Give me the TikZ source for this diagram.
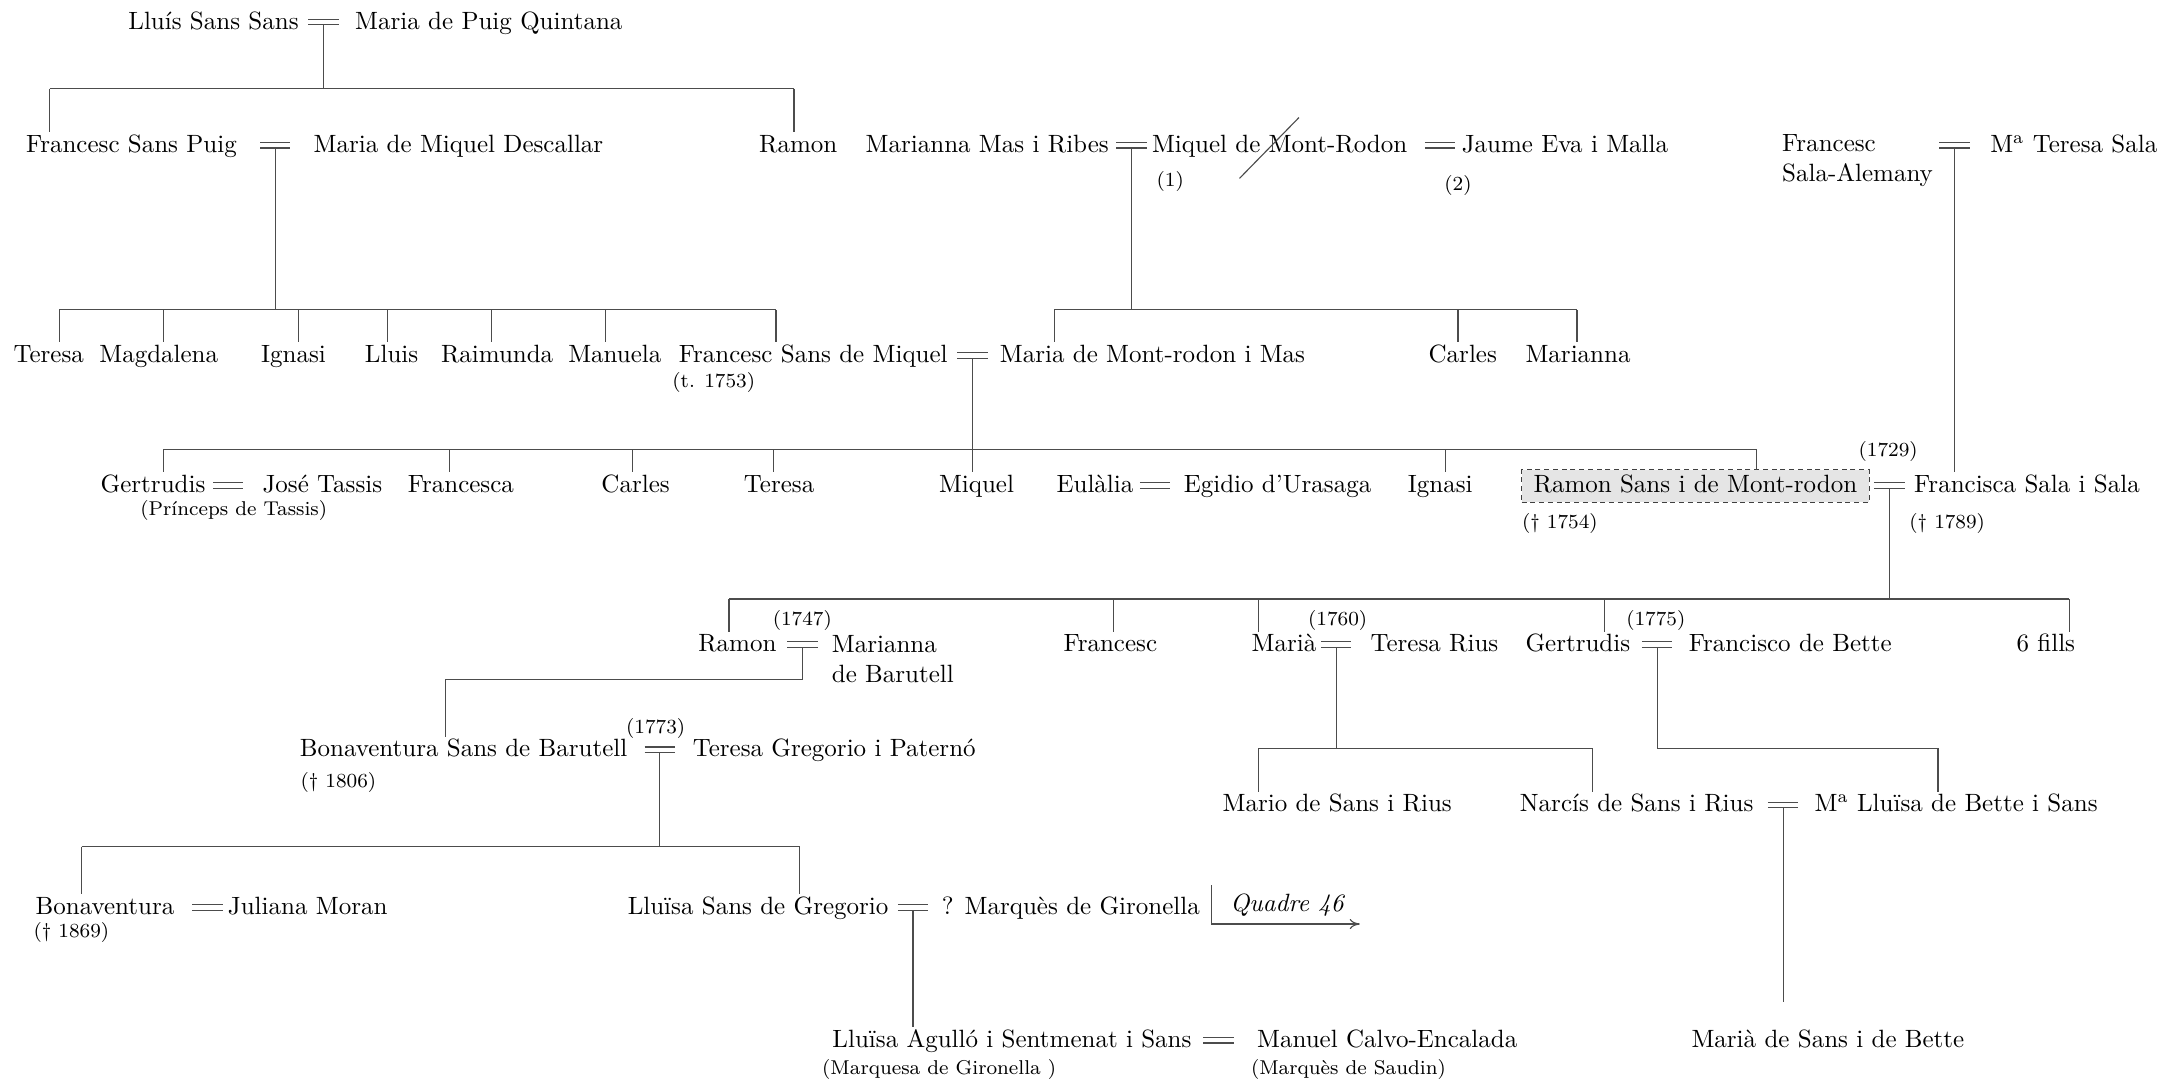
\documentclass[tikz,border=0pt]{standalone}
\usepackage{tikz}
\usetikzlibrary{arrows.meta,positioning,calc}

\tikzset{
  person/.style={anchor=base west,inner sep=0pt,outer sep=1pt,
    text height=7pt,text depth=2pt},
  twoline/.style={anchor=north west,inner sep=0pt,align=left},
  note/.style={anchor=base,inner sep=0pt,font=\footnotesize},
  notel/.style={anchor=base west,inner sep=0pt,font=\footnotesize},
  kin/.style={line width=0.45pt,black!70},
  focus/.style={person,outer sep=0pt,inner xsep=3pt,inner ysep=2pt,
    minimum width=139pt,draw=black!75,fill=black!10,dash pattern=on 2pt off 1.5pt}
}
% marriage sign: name, x, baseline
\newcommand{\wed}[3]{%
  \draw[kin] (#2-11,#3-7) -- (#2+11,#3-7) (#2-11,#3-3) -- (#2+11,#3-3);
  \coordinate (#1) at (#2,#3-3);}
% drop from a sibling bar down to a child: x, bar y, node
\newcommand{\drop}[3]{%
  \coordinate (dtop) at (#1,#2);
  \draw[kin] (dtop) -- (dtop |- #3.north);}

\begin{document}
\begin{tikzpicture}[x=0.5533pt,y=-0.5533pt]
  \useasboundingbox (0,0) rectangle (1568,781);

  % first generation
  \node[person] (lss) at (91,21) {Lluís Sans Sans};
  \node[person] (mpq) at (255,21) {Maria de Puig Quintana};
  \wed{w1}{234}{21}

  % second generation
  \node[person] (fsp) at (17,110) {Francesc Sans Puig};
  \node[person] (mmd) at (225,110) {Maria de Miquel Descallar};
  \node[person] (ramA) at (547,110) {Ramon};
  \node[person] (mmr) at (624,110) {Marianna Mas i Ribes};
  \node[person] (mmo) at (831,110) {Miquel de Mont-Rodon};
  \node[person] (jem) at (1055,110) {Jaume Eva i Malla};
  \node[note] (n1) at (846,135) {(1)};
  \node[note] (n2) at (1054,138) {(2)};
  \node[twoline] (fsa) at (1288,97) {Francesc\\Sala-Alemany};
  \node[person] (mts) at (1437,110) {M\textsuperscript{a} Teresa Sala};
  \wed{w2}{199}{110}
  \wed{w3}{818}{110}
  \wed{w4}{1041}{110}
  \wed{w5}{1413}{110}
  \draw[kin] (896,129) -- (939,85);

  % third generation
  \node[person] (terA) at (8,262) {Teresa};
  \node[person] (mag) at (70,262) {Magdalena};
  \node[person] (ignA) at (187,262) {Ignasi};
  \node[person] (llu) at (262,262) {Lluis};
  \node[person] (rai) at (317,262) {Raimunda};
  \node[person] (man) at (409,262) {Manuela};
  \node[person] (fsm) at (489,262) {Francesc Sans de Miquel};
  \node[person] (mmm) at (721,262) {Maria de Mont-rodon i Mas};
  \node[person] (carA) at (1031,262) {Carles};
  \node[person] (marA) at (1101,262) {Marianna};
  \node[note] (t1753) at (516,280) {(t. 1753)};
  \wed{w6}{703}{262}

  % fourth generation
  \node[person] (gerA) at (71,356) {Gertrudis};
  \node[person] (jta) at (188,356) {José Tassis};
  \node[note] (ptas) at (169,373) {(Prínceps de Tassis)};
  \node[person] (fra) at (293,356) {Francesca};
  \node[person] (carB) at (433,356) {Carles};
  \node[person] (terB) at (536,356) {Teresa};
  \node[person] (miq) at (677,356) {Miquel};
  \node[person] (eul) at (762,356) {Eulàlia};
  \node[person] (egi) at (854,356) {Egidio d’Urasaga};
  \node[person] (ignB) at (1016,356) {Ignasi};
  \node[focus] (rsm) at (1100,356) {Ramon Sans i de Mont-rodon};
  \node[person] (fss) at (1382,356) {Francisca Sala i Sala};
  \node[note] (y1729) at (1365,330) {(1729)};
  \node[notel] (d1754) at (1100,382) {(\textdagger\ 1754)};
  \node[notel] (d1789) at (1380,382) {(\textdagger\ 1789)};
  \wed{w7}{165}{356}
  \wed{w8}{835}{356}
  \wed{w9}{1366}{356}

  % fifth generation
  \node[person] (ramB) at (503,471) {Ramon};
  \node[twoline] (mba) at (601,459) {Marianna\\de Barutell};
  \node[person] (fraB) at (767,471) {Francesc};
  \node[person] (mariaA) at (903,471) {Marià};
  \node[person] (tri) at (989,471) {Teresa Rius};
  \node[person] (gerB) at (1101,471) {Gertrudis};
  \node[person] (fbe) at (1219,471) {Francisco de Bette};
  \node[person] (sis) at (1456,471) {6 fills};
  \node[note] (y1747) at (580,452) {(1747)};
  \node[note] (y1760) at (967,452) {(1760)};
  \node[note] (y1775) at (1197,452) {(1775)};
  \wed{w10}{580}{471}
  \wed{w11}{966}{471}
  \wed{w12}{1198}{471}

  % sixth generation
  \node[person] (bsb) at (215,547) {Bonaventura Sans de Barutell};
  \node[person] (tgp) at (499,547) {Teresa Gregorio i Paternó};
  \node[note] (y1773) at (474,530) {(1773)};
  \node[notel] (d1806) at (217,569) {(\textdagger\ 1806)};
  \node[person] (mrs) at (882,587) {Mario de Sans i Rius};
  \node[person] (nsr) at (1097,587) {Narcís de Sans i Rius};
  \node[person] (mlb) at (1310,587) {M\textsuperscript{a} Lluïsa de Bette i Sans};
  \wed{w13}{477}{547}
  \wed{w14}{1289}{587}

  % seventh generation
  \node[person] (bon) at (24,661) {Bonaventura};
  \node[person] (jmo) at (163,661) {Juliana Moran};
  \node[notel] (d1869) at (24,678) {(\textdagger\ 1869)};
  \node[person] (lsg) at (452,661) {Lluïsa Sans de Gregorio};
  \node[person] (mgi) at (679,661) {? Marquès de Gironella};
  \node[anchor=base west,inner sep=0pt,font=\itshape] (q46) at (889,659) {Quadre 46};
  \wed{w15}{150}{661}
  \wed{w16}{660}{661}

  % eighth generation
  \node[person] (las) at (600,757) {Lluïsa Agulló i Sentmenat i Sans};
  \node[person] (mce) at (907,757) {Manuel Calvo-Encalada};
  \node[notel] (mqg) at (594,777) {(Marquesa de Gironella )};
  \node[notel] (mqs) at (904,777) {(Marquès de Saudin)};
  \node[person] (msb) at (1221,757) {Marià de Sans i de Bette};
  \wed{w17}{881}{757}

  % sibling bars
  \coordinate (b1l) at (36,64);    \coordinate (b1r) at (574,64);
  \coordinate (b2l) at (43,224);   \coordinate (b2r) at (561,224);
  \coordinate (b3l) at (762,224);  \coordinate (b3r) at (1140,224);
  \coordinate (b4l) at (118,325);  \coordinate (b4r) at (1270,325);
  \coordinate (b5l) at (527,433);  \coordinate (b5r) at (1496,433);
  \coordinate (b6) at (322,491);
  \coordinate (b7l) at (910,541);  \coordinate (b7r) at (1151,541);
  \coordinate (b8) at (1401,541);
  \coordinate (b9l) at (59,612);   \coordinate (b9r) at (578,612);
  \coordinate (b10) at (1289,724);
  \coordinate (qa) at (876,640);   \coordinate (qb) at (983,668);

  \draw[kin] (w1) -- (w1 |- b1l);
  \draw[kin] (b1l) -- (b1r);
  \drop{36}{64}{fsp}
  \drop{574}{64}{ramA}

  \draw[kin] (w2) -- (w2 |- b2l);
  \draw[kin] (b2l) -- (b2r);
  \foreach \x/\k in {43/terA,118/mag,216/ignA,280/llu,355/rai,438/man,561/fsm}
    {\drop{\x}{224}{\k}}
  \draw[kin] (w3) -- (w3 |- b3l);
  \draw[kin] (b3l) -- (b3r);
  \foreach \x/\k in {762/mmm,1054/carA,1140/marA}
    {\drop{\x}{224}{\k}}

  \draw[kin] (w6) -- (w6 |- miq.north);
  \draw[kin] (b4l) -- (b4r);
  \foreach \x/\k in {118/gerA,325/fra,457/carB,559/terB,1045/ignB,1270/rsm}
    {\drop{\x}{325}{\k}}
  \draw[kin] (w5) -- (w5 |- fss.north);

  \draw[kin] (w9) -- (w9 |- b5l);
  \draw[kin] (b5l) -- (b5r);
  \foreach \x/\k in {527/ramB,805/fraB,910/mariaA,1160/gerB,1496/sis}
    {\drop{\x}{433}{\k}}

  \draw[kin] (w10) |- (b6) -- (b6 |- bsb.north);
  \draw[kin] (w11) -- (w11 |- b7l);
  \draw[kin] (b7l) -- (b7r);
  \draw[kin] (b7l) -- (b7l |- mrs.north);
  \draw[kin] (b7r) -- (b7r |- nsr.north);
  \draw[kin] (w12) |- (b8) -- (b8 |- mlb.north);

  \draw[kin] (w13) -- (w13 |- b9l);
  \draw[kin] (b9l) -- (b9r);
  \draw[kin] (b9l) -- (b9l |- bon.north);
  \draw[kin] (b9r) -- (b9r |- lsg.north);

  \draw[kin] (w16) -- (w16 |- las.north);
  \draw[kin] (w14) -- (b10);
  \draw[kin,-{To[length=4pt,width=4pt]}] (qa) |- (qb);
\end{tikzpicture}
\end{document}
